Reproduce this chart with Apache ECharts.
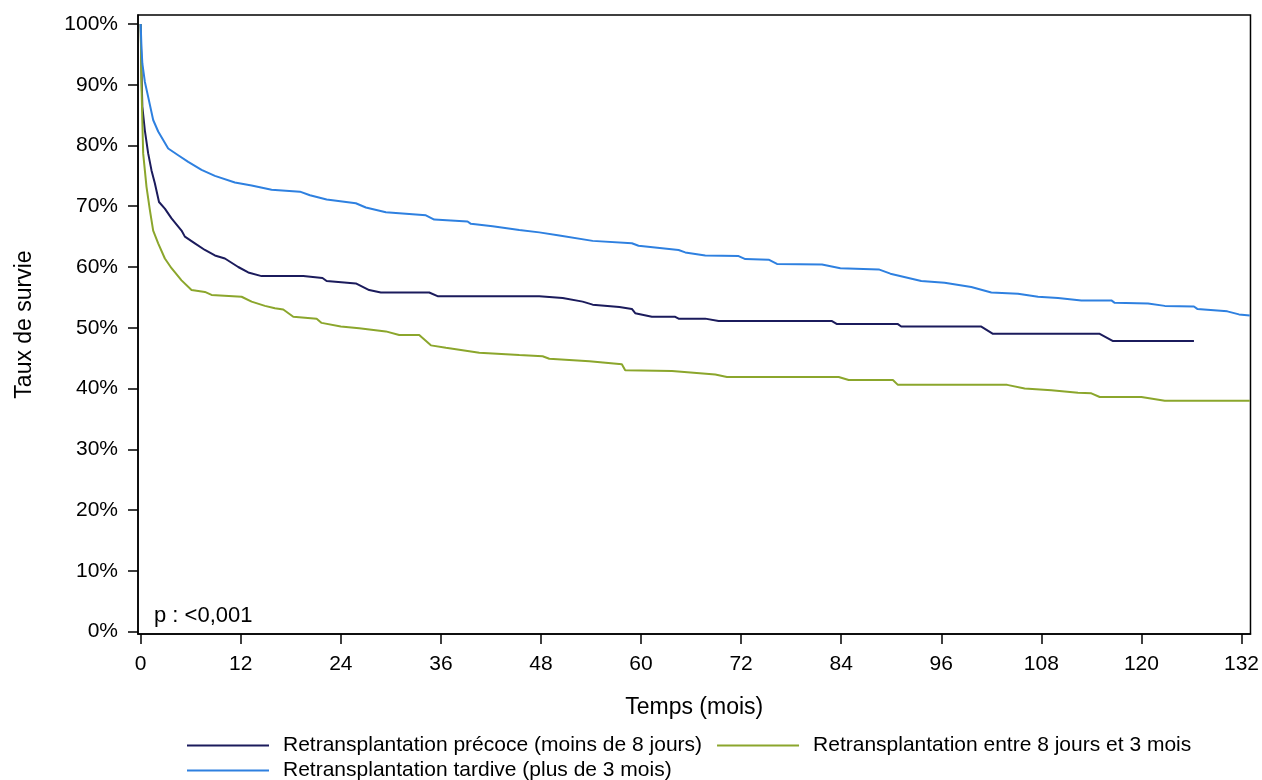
<!DOCTYPE html>
<html><head><meta charset="utf-8">
<script src="https://cdn.jsdelivr.net/npm/echarts@6/dist/echarts.min.js"></script>
<style>html,body{margin:0;padding:0;background:#fff}#c{width:1262px;height:780px}</style>
</head><body><div id="c"></div>
<script>
const xTicks = [0,12,24,36,48,60,72,84,96,108,120,132];
const yTicks = [0,10,20,30,40,50,60,70,80,90,100];
const seriesNames = [
  'Retransplantation précoce (moins de 8 jours)',
  'Retransplantation entre 8 jours et 3 mois',
  'Retransplantation tardive (plus de 3 mois)'
];
const precoce = [[0,100],[0.1,92],[0.2,86.4],[0.5,82.5],[0.9,78.7],[1.3,75.9],[1.7,73.8],[2.2,70.7],[2.9,69.6],[3.7,68],[4.9,66],[5.3,65],[6.5,63.9],[7.7,62.8],[8.9,61.9],[10.1,61.4],[11.7,60],[12.9,59.1],[14.5,58.5],[19.5,58.5],[19.7,58.2],[21.8,58.2],[22.3,57.7],[25.8,57.3],[27.4,56.2],[28.8,55.8],[34.6,55.8],[35.6,55.2],[47.8,55.2],[50.6,54.9],[53.0,54.3],[54.2,53.8],[57.4,53.4],[58.9,53.1],[59.3,52.4],[61.3,51.8],[64.1,51.8],[64.5,51.5],[67.7,51.5],[69.3,51.1],[82.9,51.1],[83.5,50.6],[90.8,50.6],[91.2,50.2],[100.8,50.2],[102.2,49.0],[115.0,49.0],[116.6,47.8],[126.3,47.8]];
const entre = [[0,100],[0.1,90],[0.2,84],[0.3,78.7],[0.7,73.2],[1.1,69.4],[1.5,66],[2.1,63.9],[2.9,61.4],[3.7,59.8],[4.9,57.8],[6.1,56.2],[7.7,55.9],[8.5,55.4],[12.1,55.1],[13.3,54.3],[14.9,53.6],[16.1,53.2],[17.1,53.0],[18.3,51.8],[21.1,51.5],[21.7,50.8],[24.0,50.2],[26.2,49.9],[29.4,49.4],[31.0,48.8],[33.4,48.8],[34.8,47.1],[36.6,46.7],[40.6,45.9],[45.4,45.5],[48.2,45.3],[49.0,44.9],[53.8,44.5],[57.7,44.0],[58.1,43.0],[63.7,42.9],[68.9,42.3],[70.3,41.9],[83.7,41.9],[84.9,41.4],[90.2,41.4],[90.8,40.6],[103.9,40.6],[106.0,40.0],[109.2,39.7],[112.4,39.3],[114.0,39.2],[115.0,38.6],[120.0,38.6],[122.8,38.0],[133,38.0]];
const tardive = [[0,100],[0.1,96],[0.2,93.5],[0.5,90.5],[0.9,88],[1.5,84.2],[2.1,82.3],[3.3,79.5],[4.5,78.4],[5.7,77.3],[7.3,76],[8.9,75],[11.3,73.9],[13.3,73.4],[15.7,72.7],[19.1,72.4],[20.3,71.8],[22.3,71.1],[25.8,70.5],[27.0,69.8],[29.4,69.0],[34.2,68.5],[35.2,67.8],[39.2,67.5],[39.6,67.1],[42.2,66.7],[45.4,66.1],[47.8,65.7],[50.2,65.2],[54.2,64.3],[58.9,63.9],[59.7,63.5],[64.5,62.8],[65.3,62.4],[67.7,61.9],[71.7,61.8],[72.5,61.3],[75.3,61.2],[76.3,60.5],[81.7,60.4],[83.9,59.8],[88.5,59.6],[89.9,58.9],[93.6,57.7],[96.4,57.4],[99.6,56.7],[102.0,55.8],[105.2,55.6],[107.6,55.1],[110.0,54.9],[112.8,54.5],[116.4,54.5],[116.8,54.1],[120.8,54.0],[122.8,53.6],[126.3,53.5],[126.7,53.1],[130.3,52.7],[131.7,52.2],[133,52.0]];
const pLabel = 'p : <0,001';

const FONT = 'Liberation Sans, Arial, sans-serif';
const colors = ['#1b1b5c', '#8ba62c', '#2e80e0'];
const chart = echarts.init(document.getElementById('c'), null, {renderer:'canvas'});
chart.setOption({
  animation: false,
  textStyle: {fontFamily: FONT},
  title: {text: pLabel, left: 149, top: 600, textStyle: {fontFamily: FONT, fontSize: 22, fontWeight: 'normal', color: '#000'}},
  grid: {left: 138, right: 11, top: 15, bottom: 146, show: true, borderColor: '#000', borderWidth: 1.5, containLabel: false},
  legend: [
    {data: [seriesNames[0], seriesNames[1]], left: 182, top: 730, icon: 'rect', itemWidth: 82, itemHeight: 2, itemGap: 15,
     textStyle: {fontFamily: FONT, fontSize: 21, color: '#000', padding: [0,0,0,9]}},
    {data: [seriesNames[2]], left: 182, top: 755, icon: 'rect', itemWidth: 82, itemHeight: 2,
     textStyle: {fontFamily: FONT, fontSize: 21, color: '#000', padding: [0,0,0,9]}}
  ],
  xAxis: {
    type: 'value', min: -0.32, max: 133.08,
    name: 'Temps (mois)', nameLocation: 'middle', nameGap: 62,
    nameTextStyle: {fontFamily: FONT, fontSize: 23, color: '#000'},
    axisLine: {show: true, onZero: false, lineStyle: {color: '#000', width: 1.5}},
    axisTick: {show: true, length: 10, customValues: xTicks, lineStyle: {color: '#000', width: 1.5}},
    axisLabel: {customValues: xTicks, margin: 20, fontFamily: FONT, fontSize: 21, color: '#000'},
    splitLine: {show: false}
  },
  yAxis: {
    type: 'value', min: -0.41, max: 101.48,
    name: 'Taux de survie', nameLocation: 'middle', nameGap: 102, nameRotate: 90,
    nameTextStyle: {fontFamily: FONT, fontSize: 23, color: '#000'},
    axisLine: {show: true, onZero: false, lineStyle: {color: '#000', width: 1.5}},
    axisTick: {show: true, length: 10, customValues: yTicks, lineStyle: {color: '#000', width: 1.5}},
    axisLabel: {customValues: yTicks, margin: 20, fontFamily: FONT, fontSize: 21, color: '#000', formatter: v => v + '%'},
    splitLine: {show: false}
  },
  series: [
    {name: seriesNames[0], type: 'line', data: precoce, showSymbol: false, symbol: 'none', lineStyle: {width: 2, color: colors[0]}, itemStyle: {color: colors[0]}},
    {name: seriesNames[1], type: 'line', data: entre, showSymbol: false, symbol: 'none', lineStyle: {width: 2, color: colors[1]}, itemStyle: {color: colors[1]}},
    {name: seriesNames[2], type: 'line', data: tardive, showSymbol: false, symbol: 'none', lineStyle: {width: 2, color: colors[2]}, itemStyle: {color: colors[2]}}
  ]
});
</script></body></html>
